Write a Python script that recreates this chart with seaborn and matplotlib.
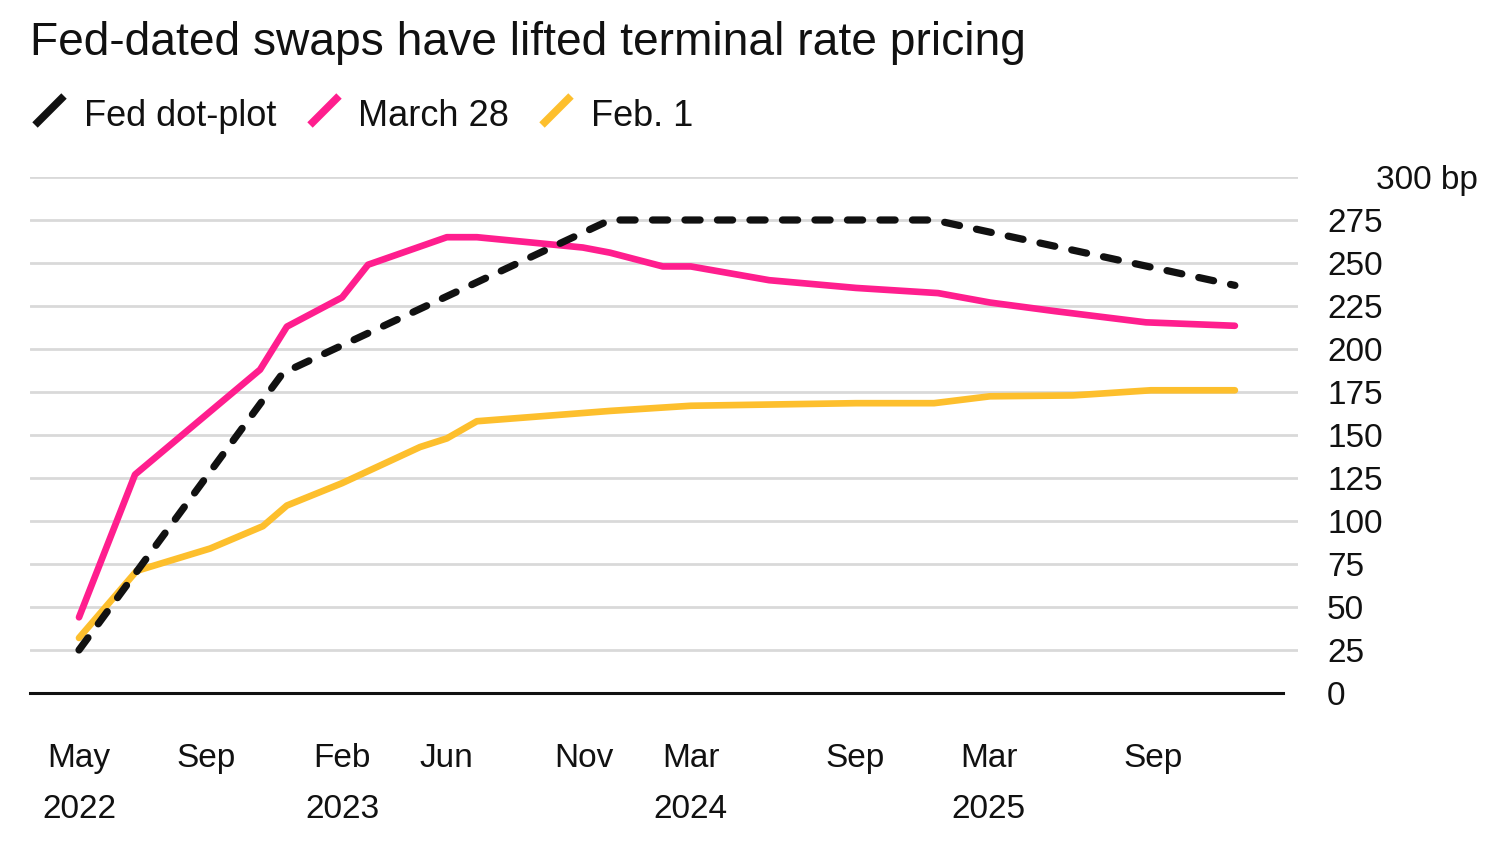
import numpy as np
import pandas as pd
import seaborn as sns
import matplotlib.pyplot as plt
from matplotlib.lines import Line2D
import matplotlib.transforms as mtransforms

sns.set_theme(style="white")
plt.rcParams['font.family'] = ['Liberation Sans', 'DejaVu Sans']

# ---------------- data ----------------
title = "Fed-dated swaps have lifted terminal rate pricing"
series_names = ["Fed dot-plot", "March 28", "Feb. 1"]
series_colors = ["#111111", "#FF1E8E", "#FDBF2D"]

# x = FOMC-meeting position counted from May 2022
dot_t = [0, 5.02, 13.08, 21.06, 28.47]
dot_bp = [25, 186, 275, 275, 237]

mar28_t = [0, 1.38, 4.46, 5.12, 6.48, 7.12, 9.06, 9.80, 12.41, 13.08, 14.38,
           15.07, 17.0, 19.14, 21.16, 22.44, 24.04, 26.28, 28.47]
mar28_bp = [44, 127, 188, 213, 230, 249, 265, 265, 259, 256, 248,
            248, 240, 235.5, 232.5, 227, 222, 215.5, 213.5]

feb1_t = [0, 1.42, 3.23, 4.53, 5.12, 6.48, 8.4, 9.06, 9.80, 13.08, 15.07,
          19.14, 21.06, 22.44, 24.48, 26.4, 28.47]
feb1_bp = [32, 71, 84, 97, 109, 122, 143, 148, 158, 164, 167,
           168.5, 168.5, 172.5, 173, 176, 176]

x_tick_pos = [0, 3.13, 6.48, 9.06, 12.44, 15.07, 19.11, 22.41, 26.45]
x_tick_labels = ["May\n2022", "Sep", "Feb\n2023", "Jun", "Nov",
                 "Mar\n2024", "Sep", "Mar\n2025", "Sep"]
y_ticks = [0, 25, 50, 75, 100, 125, 150, 175, 200, 225, 250, 275, 300]
y_top_label = "300 bp"

# ---------------- figure ----------------
W, H = 1500, 850
fig = plt.figure(figsize=(W / 100, H / 100), dpi=100)
fig.patch.set_facecolor("white")

def fx(px):
    return px / W

def fy(py):
    return 1 - py / H

ax_left, ax_right, ax_top, ax_bot = 30, 1298, 177, 693
ax = fig.add_axes([fx(ax_left), fy(ax_bot), fx(ax_right - ax_left), (ax_bot - ax_top) / H])
ax.set_facecolor("white")

feb_df = pd.DataFrame({"t": feb1_t, "bp": feb1_bp})
mar_df = pd.DataFrame({"t": mar28_t, "bp": mar28_bp})
dot_df = pd.DataFrame({"t": dot_t, "bp": dot_bp})

sns.lineplot(data=feb_df, x="t", y="bp", ax=ax, color=series_colors[2],
             linewidth=4.8, sort=False, solid_capstyle="round", solid_joinstyle="round", zorder=3)
sns.lineplot(data=mar_df, x="t", y="bp", ax=ax, color=series_colors[1],
             linewidth=4.8, sort=False, solid_capstyle="round", solid_joinstyle="round", zorder=4)
sns.lineplot(data=dot_df, x="t", y="bp", ax=ax, color=series_colors[0],
             linewidth=5.2, sort=False, zorder=5)
dl = ax.lines[-1]
dl.set_linestyle((0, (2.1, 2.4)))
dl.set_dash_capstyle("round")

x_left = (30 - 79) / 40.6
x_right = (1298 - 79) / 40.6
x_axis_end = (1283 - 79) / 40.6
ax.set_xlim(x_left, x_right)
ax.set_ylim(0, 300)

# grid
for yv in y_ticks[1:]:
    ax.axhline(yv, color="#D9D9D9", linewidth=2.0, zorder=1)

for s in ["left", "right", "top"]:
    ax.spines[s].set_visible(False)
ax.spines["bottom"].set_color("#111111")
ax.spines["bottom"].set_linewidth(2.2)
ax.spines["bottom"].set_bounds(x_left, x_axis_end)
ax.spines["bottom"].set_zorder(6)

ax.set_xticks(x_tick_pos)
ax.set_xticklabels(x_tick_labels, fontsize=24, color="#111111")
for lab in ax.get_xticklabels():
    lab.set_linespacing(1.85)
ax.tick_params(axis="x", direction="out", length=11, width=1.6, color="#111111", pad=25)

ax.yaxis.tick_right()
ax.set_yticks(y_ticks[:-1])
ax.set_yticklabels([str(v) for v in y_ticks[:-1]], fontsize=24, color="#111111")
ax.tick_params(axis="y", length=0, pad=21)
ax.text(fx(1376 - ax_left) / fx(ax_right - ax_left), 300, y_top_label,
        transform=mtransforms.blended_transform_factory(ax.transAxes, ax.transData),
        ha="left", va="center_baseline", fontsize=24, color="#111111")

ax.set_xlabel("")
ax.set_ylabel("")

# title
fig.text(fx(30), fy(55), title, fontsize=33.2, color="#111111", ha="left", va="baseline")

# legend
leg_items = [(33, 84), (308, 358), (540, 591)]
for (sx, tx), name, col in zip(leg_items, series_names, series_colors):
    fig.add_artist(Line2D([fx(sx + 2), fx(sx + 31)], [fy(125), fy(96)],
                          color=col, linewidth=5.5, solid_capstyle="butt",
                          transform=fig.transFigure))
    fig.text(fx(tx), fy(126), name, fontsize=26, color="#111111",
             ha="left", va="baseline")

fig.savefig("out.png", dpi=100, facecolor="white")
